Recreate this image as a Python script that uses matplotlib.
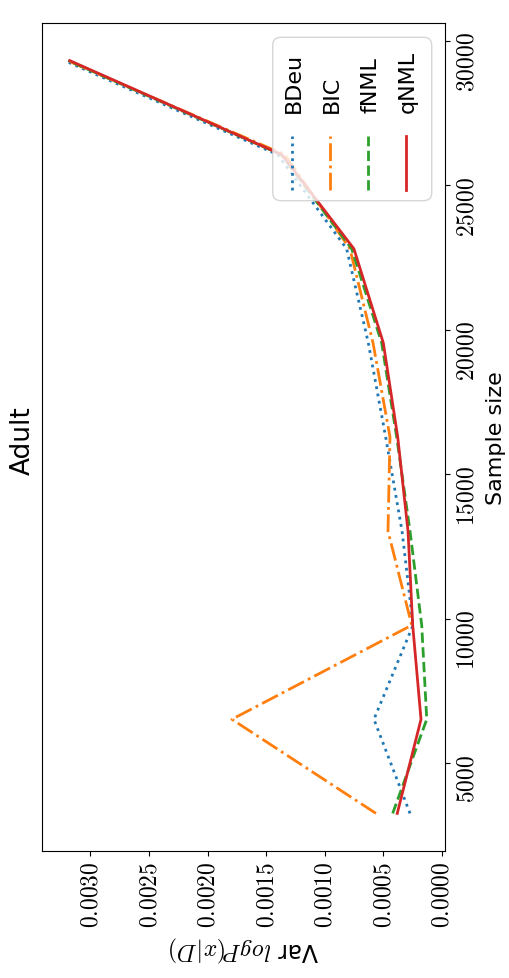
import matplotlib
matplotlib.use("Agg")
import matplotlib.pyplot as plt
import matplotlib.patches as mpatches
from matplotlib.lines import Line2D
from matplotlib.ticker import FuncFormatter, MultipleLocator

plt.rcParams["mathtext.fontset"] = "cm"
plt.rcParams["font.family"] = ["DejaVu Sans"]

# sample sizes (10%..90% of Adult) and variance of log P(x|D)
sample_sizes = [3256, 6512, 9768, 13024, 16281, 19537, 22793, 26049, 29305]
var_bdeu = [0.000271, 0.000579, 0.000245, 0.000339, 0.000479, 0.000627, 0.000812, 0.00140, 0.00322]
var_bic = [0.000562, 0.001792, 0.000256, 0.000459, 0.000442, 0.000587, 0.000784, 0.00134, 0.003194]
var_fnml = [0.000419, 0.000128, 0.000171, 0.000271, 0.000385, 0.000513, 0.000769, 0.00137, 0.00319]
var_qnml = [0.000380, 0.000177, 0.000248, 0.000288, 0.000376, 0.000499, 0.000750, 0.001365, 0.003177]

series = [
    ("BDeu", var_bdeu, "C0", ":"),
    ("BIC", var_bic, "C1", "-."),
    ("fNML", var_fnml, "C2", "--"),
    ("qNML", var_qnml, "C3", "-"),
]

fig = plt.figure(figsize=(5.09, 9.79), dpi=100)
ax = fig.add_axes([0.0825, 0.1297, 0.7918, 0.8458])

# the chart is drawn turned a quarter turn: values run right-to-left along
# the bottom, sample size runs upward on the right
for name, vals, color, ls in series:
    ax.plot(vals, sample_sizes, color=color, linestyle=ls, linewidth=2.0, zorder=3)

ax.set_xlim(0.003414, -0.000028)
ax.set_ylim(1954, 30607)

ax.xaxis.set_major_locator(MultipleLocator(0.0005))
ax.yaxis.set_major_locator(MultipleLocator(5000))
ax.xaxis.set_major_formatter(FuncFormatter(lambda v, p: f"${v:.4f}$" if v >= -1e-9 else ""))
ax.yaxis.set_major_formatter(FuncFormatter(lambda v, p: f"${int(round(v))}$"))
ax.yaxis.tick_right()
ax.yaxis.set_label_position("right")
ax.tick_params(axis="both", labelsize=17, labelrotation=90)

ax.set_xlabel(r"Var $logP(x|D)$", fontsize=17, rotation=180)
ax.set_ylabel("Sample size", fontsize=16, rotation=90, labelpad=5)

fig.text(0.044, 0.55, "Adult", rotation=90, fontsize=19, ha="center", va="center")

# legend, turned with the chart
lx0, lx1, ly0, ly1 = 0.5725, 0.967, 0.7854, 0.9827
box = mpatches.FancyBboxPatch(
    (lx0, ly0), lx1 - lx0, ly1 - ly0,
    boxstyle="round,pad=0,rounding_size=0.02",
    mutation_aspect=403 / 828,
    transform=ax.transAxes, facecolor="white", edgecolor="0.8",
    alpha=0.8, linewidth=1.0, zorder=5,
)
ax.add_patch(box)
hx = [0.621, 0.715, 0.810, 0.904]
for (name, vals, color, ls), x in zip(series, hx):
    ax.add_line(Line2D([x, x], [0.7977, 0.864], color=color, linestyle=ls,
                       linewidth=2.0, transform=ax.transAxes, zorder=6))
    ax.text(x + 0.004, 0.8925, name, rotation=90, fontsize=16, ha="center",
            va="bottom", transform=ax.transAxes, zorder=6)

fig.savefig("out.png", dpi=100)
